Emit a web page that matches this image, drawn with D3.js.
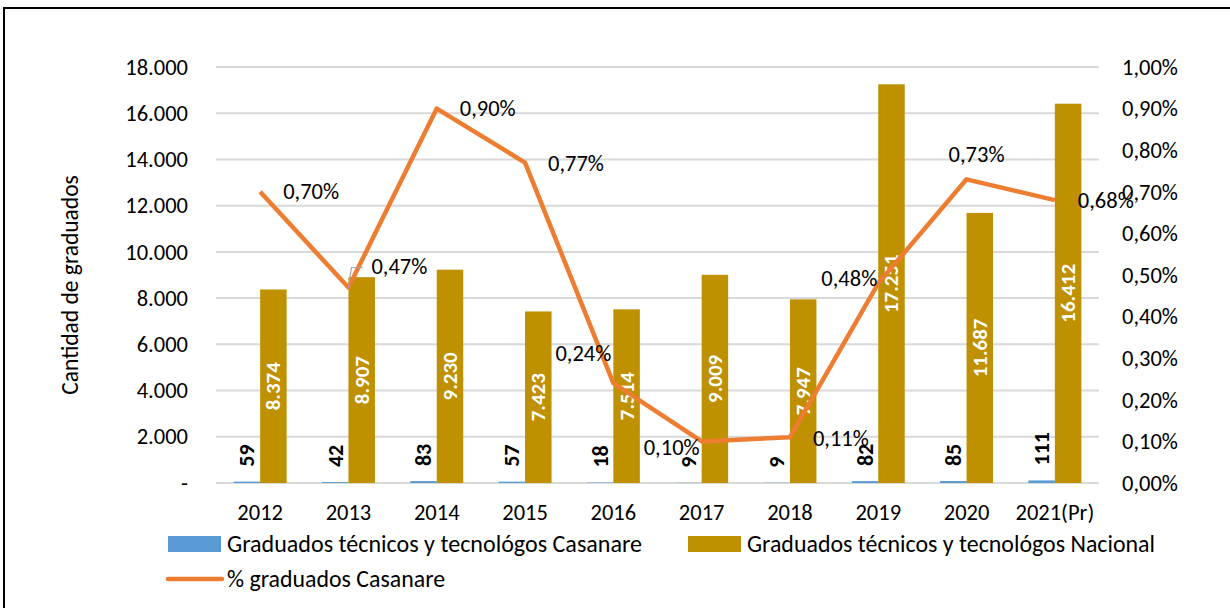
<!DOCTYPE html>
<html>
<head>
<meta charset="utf-8">
<script src="https://cdn.jsdelivr.net/npm/d3@7"></script>
<style>
  body { margin: 0; background: #fff; }
  text { font-family: Calibri, Carlito, Lato, sans-serif; }
</style>
</head>
<body>
<div id="chart"></div>
<script>
var years = ["2012","2013","2014","2015","2016","2017","2018","2019","2020","2021(Pr)"];
var casanare = [59, 42, 83, 57, 18, 9, 9, 82, 85, 111];
var nacional = [8374, 8907, 9230, 7423, 7514, 9009, 7947, 17251, 11687, 16412];
var pctCasanare = [0.70, 0.47, 0.90, 0.77, 0.24, 0.10, 0.11, 0.48, 0.73, 0.68];
var leftTicks = [0, 2000, 4000, 6000, 8000, 10000, 12000, 14000, 16000, 18000];
var rightTicks = [0, 0.1, 0.2, 0.3, 0.4, 0.5, 0.6, 0.7, 0.8, 0.9, 1.0];

// where each % label sits around its point (excel placement)
var pctLabelPlace = [
  {dx: 23, dy: 0, anchor: "start"},
  {dx: 23, dy: -21, anchor: "start"},
  {dx: 23, dy: 0, anchor: "start"},
  {dx: 23, dy: 1, anchor: "start"},
  {dx: -2, dy: -30, anchor: "end"},
  {dx: -2, dy: 6, anchor: "end"},
  {dx: 23, dy: 1, anchor: "start"},
  {dx: -1, dy: -5, anchor: "end"},
  {dx: 10, dy: -25, anchor: "middle"},
  {dx: 23, dy: 0, anchor: "start"}
];

var width = 1230, height = 608;
var plotLeft = 216, plotRight = 1099, plotTop = 67, plotBottom = 483;
var fs = "22.5px";

var colBlue = "#5B9BD5", colGold = "#BF9000", colOrange = "#ED7D31";

var svg = d3.select("#chart")
  .append("svg")
  .attr("width", width)
  .attr("height", height);

// outer frame
svg.append("rect")
  .attr("x", 4).attr("y", 8)
  .attr("width", 1240).attr("height", 620)
  .attr("fill", "none")
  .attr("stroke", "#000")
  .attr("stroke-width", 2);

var x = d3.scaleBand().domain(years).range([plotLeft, plotRight]).padding(0);
var yL = d3.scaleLinear().domain([0, 18000]).range([plotBottom, plotTop]);
var yR = d3.scaleLinear().domain([0, 1.0]).range([plotBottom, plotTop]);
var barW = x.bandwidth() * 0.3;

function cx(d) { return x(d) + x.bandwidth() / 2; }

var fmtThousands = d3.formatLocale({decimal: ",", thousands: ".", grouping: [3], currency: ["$", ""]});
var fmtInt = fmtThousands.format(",d");

// gridlines
svg.append("g")
  .selectAll("line")
  .data(leftTicks)
  .enter()
  .append("line")
  .attr("x1", plotLeft).attr("x2", plotRight)
  .attr("y1", function(d) { return yL(d); })
  .attr("y2", function(d) { return yL(d); })
  .attr("stroke", "#D9D9D9")
  .attr("stroke-width", 2);

// left axis
var axL = svg.append("g")
  .attr("transform", "translate(" + (plotLeft - 28) + ",0)")
  .call(d3.axisLeft(yL).tickValues(leftTicks).tickSize(0).tickPadding(0)
    .tickFormat(function(d) { return d === 0 ? "-" : fmtInt(d); }));
axL.select(".domain").remove();
axL.selectAll("text").attr("font-size", fs).attr("fill", "#000")
  .attr("font-family", "Calibri, Carlito, Lato, sans-serif");

// right axis
var axR = svg.append("g")
  .attr("transform", "translate(" + (plotRight + 23) + ",0)")
  .call(d3.axisRight(yR).tickValues(rightTicks).tickSize(0).tickPadding(0)
    .tickFormat(function(d) { return d.toFixed(2).replace(".", ",") + "%"; }));
axR.select(".domain").remove();
axR.selectAll("text").attr("font-size", fs).attr("fill", "#000")
  .attr("font-family", "Calibri, Carlito, Lato, sans-serif");

// x axis
var axX = svg.append("g")
  .attr("transform", "translate(0," + (plotBottom + 21) + ")")
  .call(d3.axisBottom(x).tickSize(0).tickPadding(0));
axX.select(".domain").remove();
axX.selectAll("text").attr("font-size", fs).attr("fill", "#000")
  .attr("dy", "0.7em")
  .attr("font-family", "Calibri, Carlito, Lato, sans-serif");

// y title
svg.append("text")
  .attr("transform", "translate(78," + ((plotTop + plotBottom) / 2 + 10) + ") rotate(-90)")
  .attr("text-anchor", "middle")
  .attr("font-size", "23.5px")
  .text("Cantidad de graduados");

// bars casanare
svg.append("g")
  .selectAll("rect")
  .data(years)
  .enter()
  .append("rect")
  .attr("x", function(d) { return cx(d) - barW; })
  .attr("y", function(d, i) { return yL(casanare[i]); })
  .attr("width", barW)
  .attr("height", function(d, i) { return plotBottom - yL(casanare[i]); })
  .attr("fill", colBlue);

// bars nacional
svg.append("g")
  .selectAll("rect")
  .data(years)
  .enter()
  .append("rect")
  .attr("x", function(d) { return cx(d); })
  .attr("y", function(d, i) { return yL(nacional[i]); })
  .attr("width", barW)
  .attr("height", function(d, i) { return plotBottom - yL(nacional[i]); })
  .attr("fill", colGold);

// labels nacional (white, inside, centred)
svg.append("g")
  .selectAll("text")
  .data(years)
  .enter()
  .append("text")
  .attr("transform", function(d, i) {
    var ym = (yL(nacional[i]) + plotBottom) / 2;
    return "translate(" + (cx(d) + barW / 2) + "," + ym + ") rotate(-90)";
  })
  .attr("text-anchor", "middle")
  .attr("dominant-baseline", "central")
  .attr("font-size", "21px")
  .attr("font-weight", "bold")
  .attr("fill", "#fff")
  .text(function(d, i) { return fmtInt(nacional[i]); });

// labels casanare (black, above bar)
svg.append("g")
  .selectAll("text")
  .data(years)
  .enter()
  .append("text")
  .attr("transform", function(d, i) {
    return "translate(" + (cx(d) - barW / 2) + "," + (yL(casanare[i]) - 15) + ") rotate(-90)";
  })
  .attr("text-anchor", "start")
  .attr("dominant-baseline", "central")
  .attr("font-size", "22px")
  .attr("font-weight", "bold")
  .attr("fill", "#000")
  .text(function(d, i) { return fmtInt(casanare[i]); });

// % line
var line = d3.line()
  .x(function(d, i) { return cx(years[i]); })
  .y(function(d) { return yR(d); });

svg.append("path")
  .datum(pctCasanare)
  .attr("d", line)
  .attr("fill", "none")
  .attr("stroke", colOrange)
  .attr("stroke-width", 4.5)
  .attr("stroke-linejoin", "round");

// leader line for 2013 label
var p13x = cx(years[1]), p13y = yR(pctCasanare[1]);
svg.append("path")
  .attr("d", "M" + p13x + "," + p13y + "L" + (p13x + 3) + "," + (p13y - 20) + "L" + (p13x + 14) + "," + (p13y - 20))
  .attr("fill", "none")
  .attr("stroke", "#A6A6A6")
  .attr("stroke-width", 1.2);

svg.append("g")
  .selectAll("text")
  .data(pctCasanare)
  .enter()
  .append("text")
  .attr("x", function(d, i) { return cx(years[i]) + pctLabelPlace[i].dx; })
  .attr("y", function(d, i) { return yR(d) + pctLabelPlace[i].dy; })
  .attr("text-anchor", function(d, i) { return pctLabelPlace[i].anchor; })
  .attr("dominant-baseline", "central")
  .attr("font-size", fs)
  .attr("fill", "#000")
  .text(function(d) { return d.toFixed(2).replace(".", ",") + "%"; });

// legend
var legend = svg.append("g");
legend.append("rect").attr("x", 168).attr("y", 536).attr("width", 53).attr("height", 16).attr("fill", colBlue);
legend.append("text").attr("x", 227).attr("y", 544).attr("dominant-baseline", "central")
  .attr("font-size", "23.5px").attr("textLength", 415).attr("lengthAdjust", "spacingAndGlyphs")
  .text("Graduados técnicos y tecnológos Casanare");
legend.append("rect").attr("x", 688).attr("y", 536).attr("width", 53).attr("height", 16).attr("fill", colGold);
legend.append("text").attr("x", 747).attr("y", 544).attr("dominant-baseline", "central")
  .attr("font-size", "23.5px").attr("textLength", 408).attr("lengthAdjust", "spacingAndGlyphs")
  .text("Graduados técnicos y tecnológos Nacional");
legend.append("line").attr("x1", 168).attr("x2", 222).attr("y1", 579).attr("y2", 579)
  .attr("stroke", colOrange).attr("stroke-width", 4.5).attr("stroke-linecap", "round");
legend.append("text").attr("x", 227).attr("y", 579).attr("dominant-baseline", "central")
  .attr("font-size", "23.5px").attr("textLength", 218).attr("lengthAdjust", "spacingAndGlyphs")
  .text("% graduados Casanare");
</script>
</body>
</html>
